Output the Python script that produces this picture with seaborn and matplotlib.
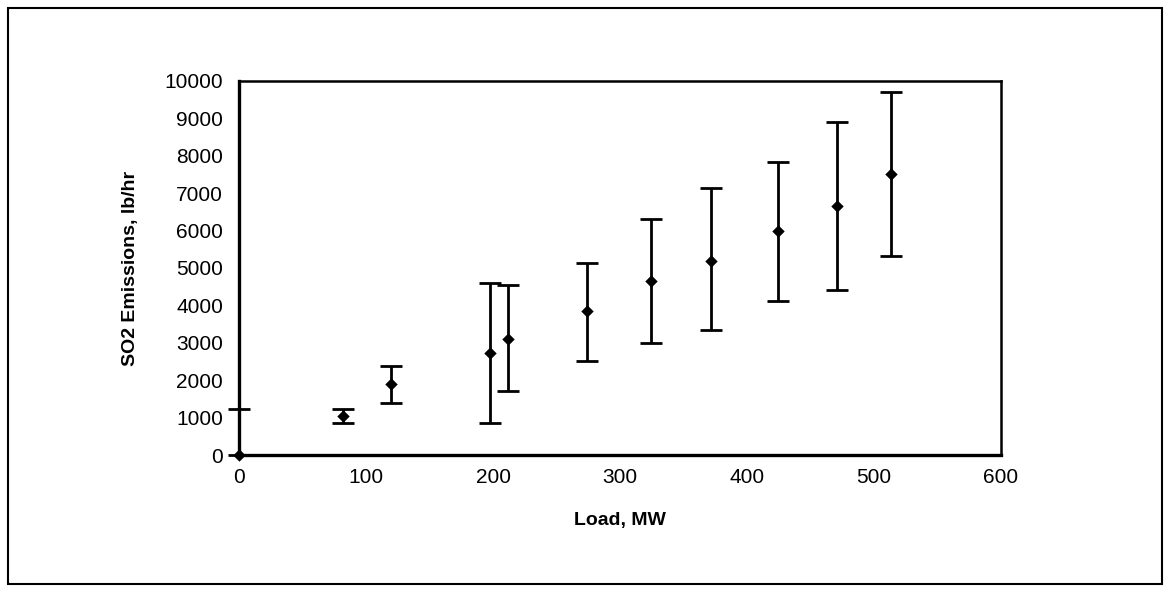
import matplotlib
matplotlib.use("Agg")
import matplotlib.pyplot as plt
import matplotlib.patches as mpatches
import numpy as np
import pandas as pd
import seaborn as sns

# values
load_mw = [0, 82, 120, 198, 212, 274, 324, 372, 424, 471, 513]
so2_mean = [0, 1040, 1900, 2730, 3100, 3850, 4650, 5200, 6000, 6650, 7510]
so2_low = [0, 850, 1390, 860, 1710, 2520, 3000, 3330, 4130, 4400, 5310]
so2_high = [1230, 1230, 2370, 4600, 4540, 5130, 6300, 7140, 7840, 8910, 9710]

x_ticks = [0, 100, 200, 300, 400, 500, 600]
y_ticks = [0, 1000, 2000, 3000, 4000, 5000, 6000, 7000, 8000, 9000, 10000]

df = pd.DataFrame({'Load': load_mw, 'SO2': so2_mean,
                   'lo': so2_low, 'hi': so2_high})

sns.set_style('white')
plt.rcParams['font.family'] = ['Liberation Sans', 'DejaVu Sans']

fig = plt.figure(figsize=(11.7, 5.92), dpi=100)
ax = fig.add_axes([0.2043, 0.2314, 0.6513, 0.6318])

yerr = np.array([df['SO2'] - df['lo'], df['hi'] - df['SO2']])
ax.errorbar(df['Load'], df['SO2'], yerr=yerr, fmt='none', ecolor='black',
            elinewidth=2.0, capsize=8, capthick=2.0, zorder=2, clip_on=False)
sns.scatterplot(data=df, x='Load', y='SO2', marker='D', color='black',
                s=40, edgecolor='black', linewidth=0, ax=ax, zorder=3,
                clip_on=False)

ax.set_xlim(0, 600)
ax.set_ylim(0, 10000)
ax.set_xticks(x_ticks)
ax.set_yticks(y_ticks)
ax.tick_params(axis='both', direction='inout', length=7, width=1.2,
               labelsize=15, colors='black')
ax.tick_params(axis='y', pad=8)
ax.tick_params(axis='x', pad=6)
ax.set_xlabel('Load, MW', fontsize=14, fontweight='bold', labelpad=18,
              color='black')
ax.set_ylabel('SO2 Emissions, lb/hr', fontsize=14, fontweight='bold',
              labelpad=18, color='black')

for side in ['left', 'bottom']:
    ax.spines[side].set_linewidth(2.4)
    ax.spines[side].set_color('black')
for side in ['top', 'right']:
    ax.spines[side].set_linewidth(1.8)
    ax.spines[side].set_color('black')

border = mpatches.Rectangle((0.007, 0.014), 0.986, 0.972,
                            transform=fig.transFigure, fill=False,
                            edgecolor='black', linewidth=1.5)
fig.patches.append(border)

fig.savefig('out.png', dpi=100)
